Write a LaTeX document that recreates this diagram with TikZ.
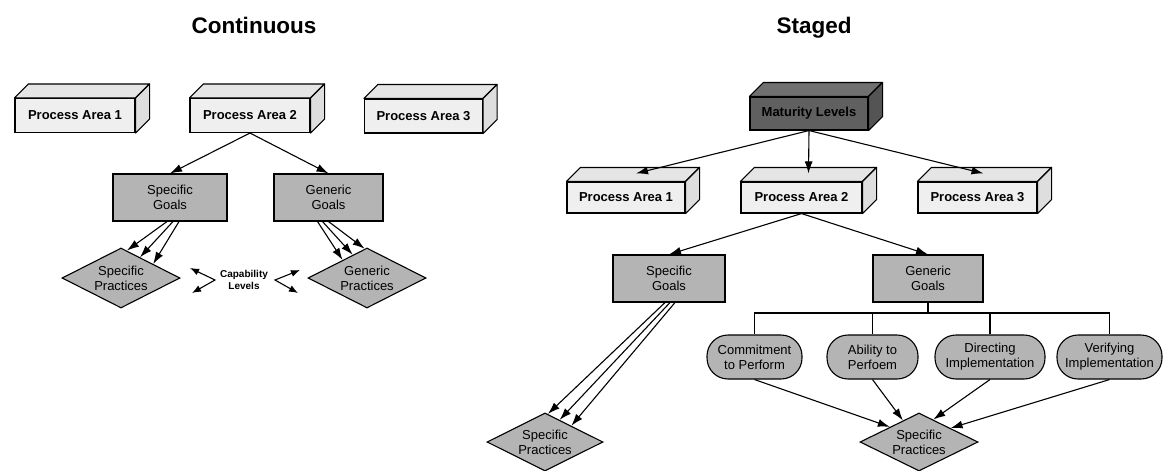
\documentclass[tikz,border=0pt]{standalone}
\usepackage{fontspec}
\setmainfont{Liberation Sans}
\usepackage{tikz}
\usetikzlibrary{shapes, arrows.meta, positioning, calc}
\definecolor{facelight}{RGB}{239, 239, 239}
\definecolor{toplight}{RGB}{229, 229, 229}
\definecolor{sidelight}{RGB}{222, 222, 222}
\definecolor{goalgray}{RGB}{180, 180, 180}
\definecolor{mlfront}{RGB}{96, 96, 96}
\definecolor{mltop}{RGB}{112, 112, 112}
\definecolor{mlside}{RGB}{84, 84, 84}
\tikzset{
  pabox/.style={draw, fill=facelight, text=black, line width=1.1pt, minimum width=120pt, minimum height=34pt, inner sep=0pt, font=\fontsize{13}{15}\selectfont\bfseries},
  goalbox/.style={draw, fill=goalgray, line width=1.1pt, minimum height=47pt, inner sep=0pt, align=center, font=\fontsize{13}{15}\selectfont},
  practice/.style={draw, fill=goalgray, shape=diamond, aspect=2, line width=1.1pt, minimum width=118pt, minimum height=60pt, inner sep=0pt, align=center, font=\fontsize{13}{15}\selectfont},
  capsule/.style={draw, fill=goalgray, rounded corners=21pt, line width=1.1pt, minimum height=44pt, inner sep=0pt, align=center, font=\fontsize{13}{15}\selectfont},
  arr/.style={-{Latex[length=12pt, width=8pt]}, line width=1.1pt},
  twoarr/.style={{Latex[length=9pt, width=7pt]}-{Latex[length=9pt, width=7pt]}, line width=1.1pt},
  title/.style={font=\fontsize{22.5}{26}\selectfont\bfseries, anchor=base}
}

\begin{document}
\begin{tikzpicture}[x=1pt, y=-1pt]
  \useasboundingbox (0,0) rectangle (1167,471);

  % Titles
  \node[title] (tcont) at (254, 33) {Continuous};
  \node[title] (tstag) at (814, 33) {Staged};

  % Continuous: process areas
  \node[pabox] (pa1) at (75, 115.5) {Process Area 1};
  \node[pabox] (pa2) at (250, 115.5) {Process Area 2};
  \node[pabox, minimum width=118pt] (pa3) at (423.5, 116) {Process Area 3};

  % Staged: maturity levels and process areas
  \node[pabox, fill=mlfront, minimum width=118pt, minimum height=33pt] (ml) at (809, 113.5) {Maturity Levels};
  \node[pabox, minimum width=118pt, minimum height=31pt] (mpa1) at (626, 197.5) {Process Area 1};
  \node[pabox, minimum width=121pt, minimum height=31pt] (mpa2) at (801.5, 197.5) {Process Area 2};
  \node[pabox, minimum width=119pt, minimum height=31pt] (mpa3) at (977.5, 197.5) {Process Area 3};

  % 3D faces of the boxes
  \foreach \n in {pa1, pa2, pa3, mpa1, mpa2, mpa3} {
    \draw[fill=toplight, line width=1.1pt, line join=round] (\n.north west) -- ++(14,-14) -- ($(\n.north east)+(14,-14)$) -- (\n.north east) -- cycle;
    \draw[fill=sidelight, line width=1.1pt, line join=round] (\n.north east) -- ++(14,-14) -- ($(\n.south east)+(14,-14)$) -- (\n.south east) -- cycle;
  }
  \draw[fill=mltop, line width=1.1pt, line join=round] (ml.north west) -- ++(14,-14) -- ($(ml.north east)+(14,-14)$) -- (ml.north east) -- cycle;
  \draw[fill=mlside, line width=1.1pt, line join=round] (ml.north east) -- ++(14,-14) -- ($(ml.south east)+(14,-14)$) -- (ml.south east) -- cycle;

  % Continuous: goals and practices
  \node[goalbox, minimum width=114pt] (sg) at (170, 197.5) {Specific\\Goals};
  \node[goalbox, minimum width=109pt] (gg) at (328.5, 197.5) {Generic\\Goals};
  \node[practice] (sp) at (121, 278) {Specific\\Practices};
  \node[practice] (gp) at (367, 278) {Generic\\Practices};

  \draw[arr] (pa2.south) -- (sg.north);
  \draw[arr] (pa2.south) -- (gg.north);
  \draw[arr] ([xshift=-3pt]sg.south) -- ($(sp.north)!0.1!(sp.east)$);
  \draw[arr] ([xshift=3pt]sg.south) -- ($(sp.north)!0.32!(sp.east)$);
  \draw[arr] ([xshift=9pt]sg.south) -- ($(sp.north)!0.54!(sp.east)$);
  \draw[arr] ([xshift=-11pt]gg.south) -- ($(gp.north)!0.41!(gp.west)$);
  \draw[arr] ([xshift=-6pt]gg.south) -- ($(gp.north)!0.24!(gp.west)$);
  \draw[arr] (gg.south) -- ($(gp.north)!0.04!(gp.west)$);

  % Capability levels
  \node[font=\fontsize{10}{11.5}\selectfont\bfseries, align=center] (cap) at (244, 280) {Capability\\Levels};
  \coordinate (cla) at (190, 268);
  \coordinate (clb) at (215, 280);
  \coordinate (clc) at (192, 293);
  \coordinate (cra) at (300, 270);
  \coordinate (crb) at (275, 280);
  \coordinate (crc) at (298, 293);
  \draw[twoarr] (cla) -- (clb) -- (clc);
  \draw[twoarr] (cra) -- (crb) -- (crc);

  % Staged: arrows from maturity levels
  \draw[arr] (ml.south) -- ($(mpa1.north)+(10,-8)$);
  \draw[arr] (ml.south) -- ($(mpa2.north)+(7,-8)$);
  \draw[arr] (ml.south) -- ($(mpa3.north)+(6,-8)$);

  % Staged: goals
  \node[goalbox, minimum width=112pt] (sg2) at (669, 278.5) {Specific\\Goals};
  \node[goalbox, minimum width=110pt] (gg2) at (928, 278.5) {Generic\\Goals};
  \draw[arr] (mpa2.south) -- (sg2.north);
  \draw[arr] (mpa2.south) -- (gg2.north);

  \node[practice, minimum width=116pt, minimum height=58pt] (sp2) at (545, 442) {Specific\\Practices};
  \draw[arr] ([xshift=-4pt]sg2.south) -- ($(sp2.north)!0.05!(sp2.east)$);
  \draw[arr] ([xshift=1pt]sg2.south) -- ($(sp2.north)!0.25!(sp2.east)$);
  \draw[arr] ([xshift=6pt]sg2.south) -- ($(sp2.north)!0.45!(sp2.east)$);

  % Common features
  \node[capsule, minimum width=95pt] (c1) at (754.5, 357) {Commitment\\to Perform};
  \node[capsule, minimum width=91pt] (c2) at (872.5, 357) {Ability to\\Perfoem};
  \node[capsule, minimum width=110pt] (c3) at (990, 357) {Directing\\Implementation};
  \node[capsule, minimum width=105pt] (c4) at (1109.5, 357) {Verifying\\Implementation};

  \coordinate (bus) at (928, 313);
  \draw[line width=1.1pt] (gg2.south) -- (gg2.south |- bus);
  \draw[line width=1.1pt] (c1.north) -- (c1.north |- bus) -- (c4.north |- bus) -- (c4.north);
  \draw[line width=1.1pt] (c2.north) -- (c2.north |- bus);
  \draw[line width=1.1pt] (c3.north) -- (c3.north |- bus);

  \node[practice, minimum height=58pt] (sp3) at (919, 442) {Specific\\Practices};
  \draw[arr] (c1.south) -- ($(sp3.north)!0.49!(sp3.west)$);
  \draw[arr] (c2.south) -- ($(sp3.north)!0.27!(sp3.west)$);
  \draw[arr] (c3.south) -- ($(sp3.north)!0.24!(sp3.east)$);
  \draw[arr] (c4.south) -- ($(sp3.north)!0.53!(sp3.east)$);
\end{tikzpicture}
\end{document}
